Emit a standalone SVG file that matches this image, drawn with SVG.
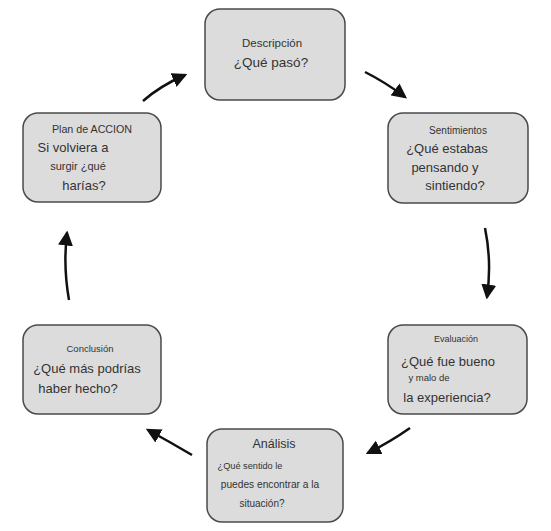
<svg xmlns="http://www.w3.org/2000/svg" width="551" height="531" viewBox="0 0 551 531">
<defs>
<marker id="ah" markerWidth="6" markerHeight="6" refX="5" refY="3" orient="auto" markerUnits="strokeWidth">
<path d="M0,0 L6,3 L0,6 Z" fill="#111"/>
</marker>
<style>
.box{fill:#dcdcdc;stroke:#4a4a4a;stroke-width:1.5}
.t{font-family:"Liberation Sans",Arial,sans-serif;fill:#333;text-anchor:middle}
.c{fill:none;stroke:#111;stroke-width:2.5;marker-end:url(#ah)}
</style>
</defs>
<rect width="551" height="531" fill="#fff"/>
<g id="descripcion">
<rect class="box" x="205" y="9" width="140" height="91" rx="15"/>
<text class="t" x="272" y="47" font-size="11.5">Descripción</text>
<text class="t" x="271" y="67" font-size="13.5">¿Qué pasó?</text>
</g>
<g id="sentimientos">
<rect class="box" x="388" y="113" width="140" height="90" rx="15"/>
<text class="t" x="458" y="134" font-size="10">Sentimientos</text>
<text class="t" x="447" y="153" font-size="13">¿Qué estabas</text>
<text class="t" x="445" y="172" font-size="13">pensando y</text>
<text class="t" x="455" y="190" font-size="13">sintiendo?</text>
</g>
<g id="evaluacion">
<rect class="box" x="388" y="325" width="139" height="89" rx="15"/>
<text class="t" x="456" y="342" font-size="9">Evaluación</text>
<text class="t" x="448" y="366" font-size="13">¿Qué fue bueno</text>
<text class="t" x="429" y="381" font-size="9.5">y malo de</text>
<text class="t" x="447" y="402" font-size="13">la experiencia?</text>
</g>
<g id="analisis">
<rect class="box" x="207" y="429" width="136" height="93" rx="15"/>
<text class="t" x="274" y="448" font-size="12.5">Análisis</text>
<text class="t" x="250" y="469" font-size="9.2">¿Qué sentido le</text>
<text class="t" x="270" y="488" font-size="10.2">puedes encontrar a la</text>
<text class="t" x="262" y="507" font-size="10">situación?</text>
</g>
<g id="conclusion">
<rect class="box" x="23" y="325" width="138" height="89" rx="15"/>
<text class="t" x="90" y="352" font-size="9.5">Conclusión</text>
<text class="t" x="87" y="373" font-size="13">¿Qué más podrías</text>
<text class="t" x="78" y="393" font-size="13">haber hecho?</text>
</g>
<g id="plan">
<rect class="box" x="23" y="113" width="138" height="89" rx="15"/>
<text class="t" x="92" y="133" font-size="10.7">Plan de ACCION</text>
<text class="t" x="73" y="152" font-size="13">Si volviera a</text>
<text class="t" x="78" y="170" font-size="11">surgir ¿qué</text>
<text class="t" x="84" y="190" font-size="13">harías?</text>
</g>
<g id="connectors">
<path class="c" d="M143,101 Q160,86 185,75"/>
<path class="c" d="M365,72 Q385,82 405,97"/>
<path class="c" d="M485,228 Q492,262 487,297"/>
<path class="c" d="M410,428 Q390,442 368,453"/>
<path class="c" d="M192,455 Q170,442 148,430"/>
<path class="c" d="M69,300 Q63,266 67,233"/>
</g>
</svg>
